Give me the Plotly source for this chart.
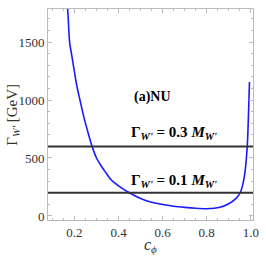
import plotly.graph_objects as go

# Curve: W' width vs c_phi (NU model)
c_phi = [0.165, 0.170, 0.178, 0.19, 0.20, 0.212, 0.225, 0.243, 0.262, 0.28, 0.30, 0.32,
         0.34, 0.367, 0.40, 0.449, 0.50, 0.55, 0.60, 0.65, 0.70, 0.75, 0.80, 0.86,
         0.90, 0.933, 0.952, 0.97, 0.984, 0.99, 0.994]
gamma = [1870, 1760, 1500, 1360, 1240, 1110, 1000, 850, 716, 600, 500, 435,
         380, 310, 260, 200, 150, 118, 98, 84, 74, 66, 62, 75,
         105, 152, 200, 330, 600, 900, 1155]

M_W = 2000
ratios = [0.3, 0.1]
ratio_labels = ["0.3", "0.1"]

x_ticks = [0.2, 0.4, 0.6, 0.8, 1.0]
x_tick_text = ["0.2", "0.4", "0.6", "0.8", "1.0"]
y_ticks = [0, 500, 1000, 1500]

FONT = "Liberation Serif"

fig = go.Figure()
fig.add_trace(go.Scatter(x=c_phi, y=gamma, mode="lines",
                         line=dict(color="#1a1aff", width=1.6, shape="spline", smoothing=0.6),
                         showlegend=False, hoverinfo="skip"))

for r in ratios:
    fig.add_hline(y=r * M_W, line=dict(color="#333333", width=2))

label_y = [716, 302]
for r, lab, ly in zip(ratios, ratio_labels, label_y):
    fig.add_annotation(x=0.653, y=ly, xref="x", yref="y", showarrow=False,
                       text=f"<b>Γ<sub><i>W'</i></sub> = {lab} <i>M</i><sub><i>W'</i></sub></b>",
                       font=dict(family=FONT, size=15, color="black"))

fig.add_annotation(x=0.552, y=1026, xref="x", yref="y", showarrow=False,
                   text="<b>(a)NU</b>", font=dict(family=FONT, size=14, color="black"))

# axis titles
fig.add_annotation(x=0.498, y=-0.123, xref="paper", yref="paper", showarrow=False,
                   xanchor="center", yanchor="middle",
                   text="<i>c</i><sub><i>ϕ</i></sub>",
                   font=dict(family=FONT, size=16, color="#333333"))
fig.add_annotation(x=-0.175, y=0.5, xref="paper", yref="paper", showarrow=False,
                   xanchor="center", yanchor="middle",
                   textangle=-90, text="Γ<sub><i>W'</i></sub> [GeV]",
                   font=dict(family=FONT, size=15, color="#333333"))

axis_common = dict(showgrid=False, zeroline=False, showline=True, linecolor="#bbbbbb",
                   linewidth=1, mirror="ticks", ticks="inside", ticklen=4,
                   tickcolor="#bbbbbb", ticklabeloverflow="allow",
                   tickfont=dict(family=FONT, size=13, color="#333333"))

fig.update_xaxes(range=[0.08, 1.01], tickvals=x_ticks, ticktext=x_tick_text,
                 minor=dict(dtick=0.05, ticks="inside", ticklen=2, tickcolor="#bbbbbb"),
                 **axis_common)
fig.update_yaxes(range=[-35, 1785], tickvals=y_ticks,
                 minor=dict(dtick=100, ticks="inside", ticklen=2, tickcolor="#bbbbbb"),
                 **axis_common)

fig.update_layout(width=266, height=266, margin=dict(l=48, r=7, t=9, b=46),
                  plot_bgcolor="white", paper_bgcolor="white", hovermode=False)

fig.write_html("out.html", config={"displayModeBar": False},
               post_script="document.body.style.margin='0';document.body.style.overflow='hidden';")
